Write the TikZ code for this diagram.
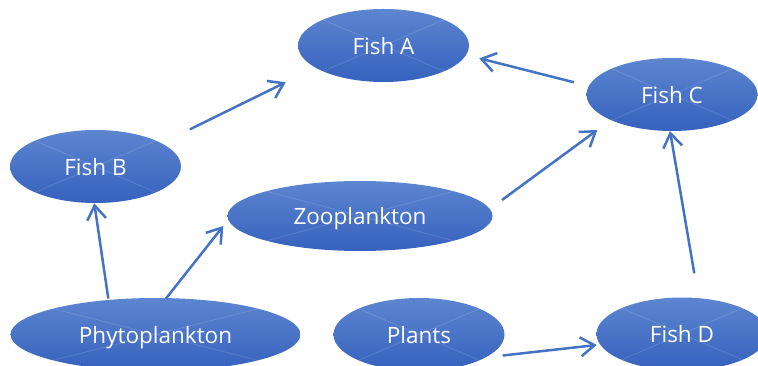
\documentclass[tikz,border=0pt]{standalone}
\usepackage{fontspec}
\setmainfont{Open Sans}
\usetikzlibrary{shapes.geometric,arrows.meta,calc}
\definecolor{arrblue}{RGB}{68,114,196}
\definecolor{toplight}{RGB}{92,134,208}
\definecolor{botdark}{RGB}{54,97,189}
\tikzset{
  fishnode/.style={ellipse, inner sep=0pt, minimum width=171pt, minimum height=73pt,
    top color=toplight, bottom color=botdark, draw=none, text=white,
    font=\fontsize{22.5}{25}\selectfont, text depth=0pt, yshift=0pt,
    path picture={
      \draw[white, opacity=0.13, line width=0.8pt]
        (path picture bounding box.north west) -- (path picture bounding box.south east)
        (path picture bounding box.south west) -- (path picture bounding box.north east);
    }},
  widenode/.style={fishnode, minimum width=#1},
  arr/.style={draw=arrblue, line width=2.5pt, -{Straight Barb[length=14pt,width=19pt]}}
}
\begin{document}
\begin{tikzpicture}[x=1pt,y=-1pt]
\useasboundingbox (0,0) rectangle (758,366);
\node[fishnode] (fishA) at (383.5,45.5) {Fish A};
\node[fishnode] (fishC) at (672,94.5) {Fish C};
\node[fishnode] (fishB) at (95.5,166.5) {Fish B};
\node[widenode=265pt, minimum height=70pt] (zoo) at (360,216) {Zooplankton};
\node[widenode=290pt] (phyto) at (155.5,334.5) {Phytoplankton};
\node[fishnode] (plants) at (419,334.5) {Plants};
\node[fishnode] (fishD) at (682,334) {Fish D};

\draw[arr] ($(fishB.center)+(94.5,-37.2)$) -- ($(fishA.center)+(-97.8,36.8)$);
\draw[arr] ($(fishC.center)+(-98,-12.2)$) -- ($(fishA.center)+(95.8,12.8)$);
\draw[arr] ($(zoo.center)+(142,-16)$) -- ($(fishC.center)+(-74.7,35.5)$);
\draw[arr] ($(fishD.center)+(12.3,-60.7)$) -- ($(fishC.center)+(-2,36.5)$);
\draw[arr] ($(phyto.center)+(-47.2,-36)$) -- ($(fishB.center)+(-1.2,36.8)$);
\draw[arr] ($(phyto.center)+(10.5,-36)$) -- ($(zoo.center)+(-136.7,10)$);
\draw[arr] ($(plants.center)+(83.7,21)$) -- ($(fishD.center)+(-85.3,11)$);
\end{tikzpicture}
\end{document}
